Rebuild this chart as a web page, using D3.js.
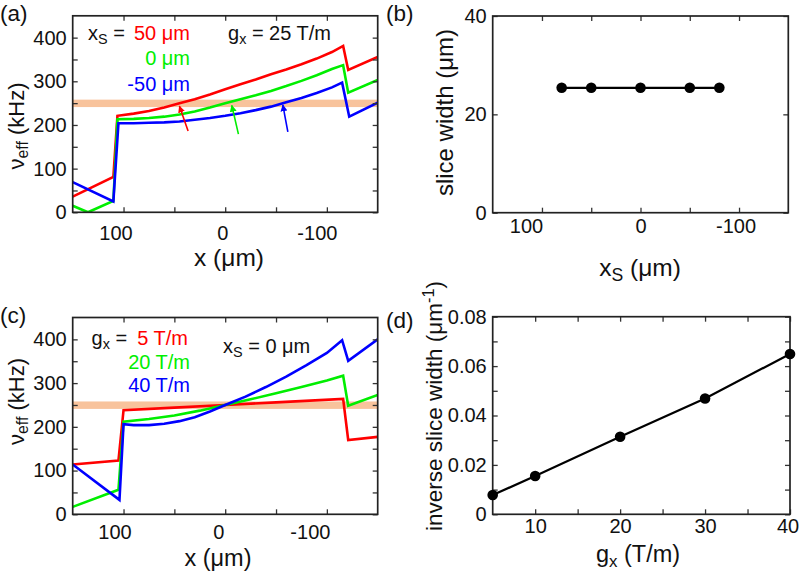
<!DOCTYPE html>
<html><head><meta charset="utf-8">
<script src="https://cdn.jsdelivr.net/npm/d3@7"></script>
<style>body{margin:0;background:#fff}svg{display:block}text{font-family:"Liberation Sans",Arial,sans-serif;fill:#111}</style>
</head><body><svg id="chart" width="800" height="571"></svg>
<script>
// ---------------- data ----------------
// panel (a): g_x = 25 T/m, three slice positions x_S
const aRedX   = [150,110,106,90,75,60,45,30,15,0,-15,-30,-45,-60,-75,-90,-105,-116,-121,-150];
const aRedY   = [36,81,221,226,232,240,250,259,270,282,293,304,316,327,339,352,367,381,326,356];
const aGreenX = [150,135,110,106,90,75,60,45,30,15,0,-15,-30,-45,-60,-75,-90,-105,-116,-121,-150];
const aGreenY = [15,0,26,213,214,216,219,224,231,240,250,259,268,278,289,301,314,328,337,274,303];
const aBlueX  = [150,110,105,90,75,60,45,30,15,0,-15,-30,-45,-60,-75,-90,-105,-115,-122,-150];
const aBlueY  = [69,25,204,204,205,206,208,212,216,221,227,234,242,252,262,273,286,297,219,251];
// arrows in (a): tail -> head
const arrowColors = ["red","green","blue"];
const arrowTailX = [36.5,-13,-61.6];
const arrowTailY = [186,179,184];
const arrowHeadX = [45,-6.5,-56.7];
const arrowHeadY = [243,245,246];
// panel (c): x_S = 0, three gradients
const cRedX   = [150,105,100,50,0,-50,-116,-121,-150];
const cRedY   = [114,123,238,244,250,256,264,170,177];
const cGreenX = [150,105,100,75,50,25,0,-25,-50,-75,-100,-116,-121,-150];
const cGreenY = [17,56,212,218,226,237,250,263,277,291,306,317,248,273];
const cBlueX  = [150,104,100,90,75,60,45,30,15,0,-20,-40,-60,-80,-100,-115,-121,-150];
const cBlueY  = [114,33,206,204,204,207,213,222,235,250,269,291,315,341,369,398,351,400];
// excitation band (kHz)
const bandRange = [241,258];
// panel (b)
const bXs = [80,50,0,-50,-80];
const bWidth = [25.4,25.4,25.4,25.4,25.4];
// panel (d)
const dG = [5,10,20,30,40];
const dInv = [0.0078,0.0155,0.0314,0.0469,0.0649];
// ticks
const xTicksAC = [100,50,0,-50,-100];
const xLabelsAC = ["100","","0","","-100"];
const yTicksAC = [0,50,100,150,200,250,300,350,400];
const yLabelsAC = ["0","","100","","200","","300","","400"];
const yTicksB = [0,20,40];
const yLabelsB = ["0","20","40"];
const xTicksD = [10,15,20,25,30,35,40];
const xLabelsD = ["10","","20","","30","","40"];
const yTicksD = [0,0.01,0.02,0.03,0.04,0.05,0.06,0.07,0.08];
const yLabelsD = ["0","","0.02","","0.04","","0.06","","0.08"];

// ---------------- drawing ----------------
const svg = d3.select("#chart");
const COL = {red:"#ff0000", green:"#00ee00", blue:"#0000ff"};
const defs = svg.append("defs");
Object.entries(COL).forEach(([k,c])=>{
  defs.append("marker").attr("id","ah-"+k).attr("viewBox","0 0 10 10").attr("refX",9).attr("refY",5)
    .attr("markerWidth",7).attr("markerHeight",7).attr("markerUnits","userSpaceOnUse").attr("orient","auto")
    .append("path").attr("d","M0,0L10,5L0,10Z").attr("fill",c);
});

function panel(id, cfg){
  const g = svg.append("g");
  const x = d3.scaleLinear().domain(cfg.xd).range([cfg.l,cfg.r]);
  const y = d3.scaleLinear().domain(cfg.yd).range([cfg.b,cfg.t]);
  defs.append("clipPath").attr("id","clip-"+id).append("rect")
    .attr("x",cfg.l).attr("y",cfg.t).attr("width",cfg.r-cfg.l).attr("height",cfg.b-cfg.t);
  const plot = g.append("g").attr("clip-path",`url(#clip-${id})`);
  const lab = (ticks,labels)=> d => labels[ticks.indexOf(d)];
  const style = s => { s.select(".domain").remove(); s.selectAll(".tick line").attr("stroke","#333").attr("stroke-width",1.3);
    s.selectAll("text").style("font-size","20px").attr("fill","#111"); };
  const xb = g.append("g").attr("transform",`translate(0,${cfg.b})`)
    .call(d3.axisBottom(x).tickValues(cfg.xt).tickFormat(lab(cfg.xt,cfg.xl)).tickSize(-5).tickPadding(cfg.xpad)).call(style);
  if(cfg.xdx) xb.selectAll(".tick text").attr("dx", d => (cfg.xdx[d]||0));
  g.append("g").attr("transform",`translate(0,${cfg.t})`)
    .call(d3.axisTop(x).tickValues(cfg.xt).tickFormat("").tickSize(-5)).call(style);
  g.append("g").attr("transform",`translate(${cfg.l},0)`)
    .call(d3.axisLeft(y).tickValues(cfg.yt).tickFormat(lab(cfg.yt,cfg.yl)).tickSize(-5).tickPadding(6)).call(style);
  g.append("g").attr("transform",`translate(${cfg.r},0)`)
    .call(d3.axisRight(y).tickValues(cfg.yt).tickFormat("").tickSize(-5)).call(style);
  g.append("rect").attr("x",cfg.l).attr("y",cfg.t).attr("width",cfg.r-cfg.l).attr("height",cfg.b-cfg.t)
    .attr("fill","none").attr("stroke","#222").attr("stroke-width",1.7);
  return {g, plot, x, y};
}

function curve(p, xs, ys, color, w){
  const pts = xs.map((v,i)=>[v,ys[i]]);
  p.plot.append("path").attr("d", d3.line().x(d=>p.x(d[0])).y(d=>p.y(d[1]))(pts))
    .attr("fill","none").attr("stroke",color).attr("stroke-width",w||2.6).attr("stroke-linejoin","miter");
}
function band(p){
  p.plot.insert("rect",":first-child").attr("x",p.x.range()[0]).attr("width",p.x.range()[1]-p.x.range()[0])
    .attr("y",p.y(bandRange[1])).attr("height",p.y(bandRange[0])-p.y(bandRange[1])).attr("fill","#f8c39c");
}
function txt(x,y,parts,opts={}){
  const t = svg.append("text").attr("x",x).attr("y",y).style("font-size",(opts.size||20)+"px")
    .attr("text-anchor",opts.anchor||"start");
  if(opts.rotate) t.attr("transform",`rotate(-90,${x},${y})`);
  parts.forEach(pt=>{
    const s = t.append("tspan").text(pt.t);
    if(pt.c) s.attr("fill",pt.c);
    if(pt.sub){ s.attr("dy",pt.sub==="sub"?"0.28em":"-0.5em").style("font-size","72%"); }
    if(pt.back){ s.attr("dy",pt.back); }
  });
  return t;
}

// ---- panel (a)
const A = panel("a",{l:72.7,r:377.7,t:15.8,b:212.3,xd:[150,-150],yd:[0,450],
  xt:xTicksAC,xl:xLabelsAC,yt:yTicksAC,yl:yLabelsAC,xpad:14,xdx:{100:-8,0:-3,"-100":-10}});
band(A);
curve(A,aRedX,aRedY,COL.red);
curve(A,aGreenX,aGreenY,COL.green);
curve(A,aBlueX,aBlueY,COL.blue);
arrowColors.forEach((c,i)=>{
  A.plot.append("line").attr("x1",A.x(arrowTailX[i])).attr("y1",A.y(arrowTailY[i]))
    .attr("x2",A.x(arrowHeadX[i])).attr("y2",A.y(arrowHeadY[i]))
    .attr("stroke",COL[c]).attr("stroke-width",1.6).attr("marker-end",`url(#ah-${c})`);
});

// ---- panel (b)
const B = panel("b",{l:492.7,r:788.3,t:16,b:212.7,xd:[150,-150],yd:[0,40],
  xt:xTicksAC,xl:xLabelsAC,yt:yTicksB,yl:yLabelsB,xpad:6,xdx:{100:-16,0:0,"-100":-3.5}});
B.g.append("path").attr("d",d3.line().x((d,i)=>B.x(bXs[i])).y((d,i)=>B.y(bWidth[i]))(bXs))
  .attr("fill","none").attr("stroke","#000").attr("stroke-width",2.2);
B.g.selectAll("circle.b").data(bXs).join("circle").attr("cx",d=>B.x(d)).attr("cy",(d,i)=>B.y(bWidth[i])).attr("r",5.3).attr("fill","#000");

// ---- panel (c)
const C = panel("c",{l:72.7,r:377.7,t:317.5,b:514.3,xd:[150,-150],yd:[0,450],
  xt:xTicksAC,xl:xLabelsAC,yt:yTicksAC,yl:yLabelsAC,xpad:10.5,xdx:{100:-9,0:-7,"-100":-17}});
band(C);
curve(C,cRedX,cRedY,COL.red);
curve(C,cGreenX,cGreenY,COL.green);
curve(C,cBlueX,cBlueY,COL.blue);

// ---- panel (d)
const D = panel("d",{l:492.7,r:790,t:316.7,b:514.3,xd:[5,40],yd:[0,0.08],
  xt:xTicksD,xl:xLabelsD,yt:yTicksD,yl:yLabelsD,xpad:5,xdx:{40:-2.5}});
D.g.append("path").attr("d",d3.line().x((d,i)=>D.x(dG[i])).y((d,i)=>D.y(dInv[i]))(dG))
  .attr("fill","none").attr("stroke","#000").attr("stroke-width",2.2);
D.g.selectAll("circle.d").data(dG).join("circle").attr("cx",d=>D.x(d)).attr("cy",(d,i)=>D.y(dInv[i])).attr("r",5.3).attr("fill","#000");

// ---- texts
txt(0,20.5,[{t:"(a)"}],{size:22.5});
txt(386,20.5,[{t:"(b)"}],{size:22.5});
txt(0,323,[{t:"(c)"}],{size:22.5});
txt(386,327.5,[{t:"(d)"}],{size:22.5});

// legend (a)
txt(88,39.5,[{t:"x"},{t:"S",sub:"sub"},{t:" = ",back:"-0.2em"}]);
txt(190,39.5,[{t:"50 μm",c:COL.red}],{anchor:"end"});
txt(190,65,[{t:"0 μm",c:COL.green}],{anchor:"end"});
txt(190,90.5,[{t:"-50 μm",c:COL.blue}],{anchor:"end"});
txt(228,39.5,[{t:"g"},{t:"x",sub:"sub"},{t:" = 25 T/m",back:"-0.2em"}]);
// legend (c)
txt(91.5,345,[{t:"g"},{t:"x",sub:"sub"},{t:" = ",back:"-0.2em"}]);
txt(188,345,[{t:"5 T/m",c:COL.red}],{anchor:"end"});
txt(190,368.5,[{t:"20 T/m",c:COL.green}],{anchor:"end"});
txt(190,392,[{t:"40 T/m",c:COL.blue}],{anchor:"end"});
txt(223,353,[{t:"x"},{t:"S",sub:"sub"},{t:" = 0 μm",back:"-0.2em"}]);

// axis titles
txt(229,265.5,[{t:"x (μm)"}],{size:24.5,anchor:"middle"});
txt(640,276,[{t:"x"},{t:"S",sub:"sub"},{t:" (μm)",back:"-0.2em"}],{size:24.5,anchor:"middle"});
txt(218,566,[{t:"x (μm)"}],{size:23.5,anchor:"middle"});
txt(638,562,[{t:"g"},{t:"x",sub:"sub"},{t:" (T/m)",back:"-0.2em"}],{size:23.5,anchor:"middle"});
txt(24,126,[{t:"ν"},{t:"eff",sub:"sub"},{t:" (kHz)",back:"-0.2em"}],{size:22,anchor:"middle",rotate:true});
txt(24,401.5,[{t:"ν"},{t:"eff",sub:"sub"},{t:" (kHz)",back:"-0.2em"}],{size:22,anchor:"middle",rotate:true});
txt(453,112.5,[{t:"slice width (μm)"}],{size:24,anchor:"middle",rotate:true});
txt(442,406,[{t:"inverse slice width (μm"},{t:"-1",sub:"sup"},{t:")",back:"0.35em"}],{size:22.5,anchor:"middle",rotate:true});
</script></body></html>
